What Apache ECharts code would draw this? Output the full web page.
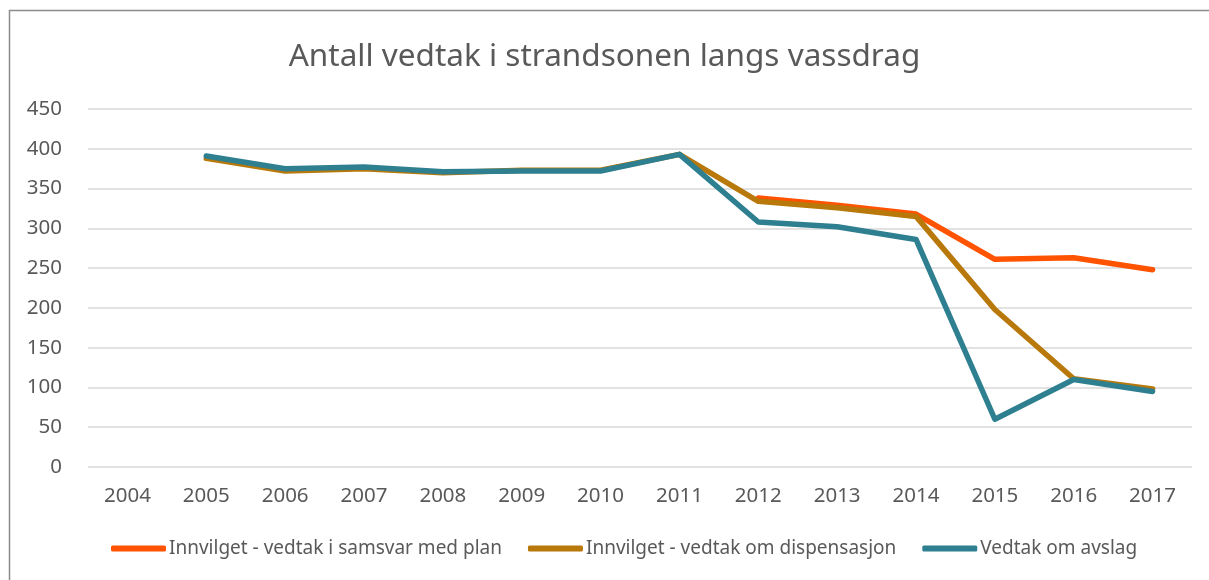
<!DOCTYPE html>
<html>
<head>
<meta charset="utf-8">
<script src="https://cdn.jsdelivr.net/npm/echarts@6/dist/echarts.min.js"></script>
<style>
  html, body { margin: 0; padding: 0; background: #fff; }
  #chart-container { width: 1209px; height: 580px; }
</style>
</head>
<body>
<div id="chart-container"></div>
<script>
// kategorier (år)
var years = ['2004', '2005', '2006', '2007', '2008', '2009', '2010', '2011', '2012', '2013', '2014', '2015', '2016', '2017'];

// serieverdier lest av figuren
var samsvarMedPlan = [null, null, null, null, null, null, null, null, 338, 329, 318, 261, 263, 248];
var dispensasjon = [null, 388, 372, 375, 370, 373, 373, 393, 334, 326, 315, 198, 111, 98];
var avslag = [null, 391, 375, 377, 371, 372, 372, 393, 308, 302, 286, 60, 110, 95];

var seriesNames = ['Innvilget - vedtak i samsvar med plan', 'Innvilget - vedtak om dispensasjon', 'Vedtak om avslag'];
var seriesColors = ['#ff5300', '#b8780a', '#2e7f8f'];

var container = document.getElementById('chart-container');
var myChart = echarts.init(container);

var textColor = '#595959';
var font = 'Noto Sans';

function lineSeries(i, data) {
  return {
    name: seriesNames[i],
    type: 'line',
    data: data,
    showSymbol: false,
    symbol: 'none',
    connectNulls: false,
    lineStyle: { width: 5.5, color: seriesColors[i], cap: 'round', join: 'round' },
    itemStyle: { color: seriesColors[i] },
    emphasis: { disabled: true }
  };
}

myChart.setOption({
  animation: false,
  textStyle: { fontFamily: font },
  title: {
    text: 'Antall vedtak i strandsonen langs vassdrag',
    left: 'center',
    top: 36,
    textStyle: { fontFamily: font, fontSize: 31.5, fontWeight: 'normal', color: textColor }
  },
  // ramme rundt figuren
  graphic: [{
    type: 'rect',
    shape: { x: 9.5, y: 10.5, width: 1210, height: 580 },
    style: { fill: 'none', stroke: '#8c8c8c', lineWidth: 1.5 },
    silent: true
  }],
  legend: {
    bottom: 17,
    left: 106,
    itemWidth: 55,
    itemHeight: 6,
    itemGap: 26,
    icon: 'roundRect',
    textStyle: { fontFamily: font, fontSize: 19, color: textColor, padding: [0, 0, 0, -2] },
    data: seriesNames
  },
  grid: { left: 88, right: 17, top: 109, bottom: 113 },
  xAxis: {
    type: 'category',
    data: years,
    boundaryGap: true,
    axisLine: { show: false },
    axisTick: { show: false },
    axisLabel: { fontFamily: font, fontSize: 20.5, color: textColor, margin: 19 }
  },
  yAxis: {
    type: 'value',
    min: 0,
    max: 450,
    interval: 50,
    axisLine: { show: false },
    axisTick: { show: false },
    axisLabel: { fontFamily: font, fontSize: 20.5, color: textColor, margin: 26 },
    splitLine: { lineStyle: { color: '#d9d9d9', width: 1.5 } }
  },
  series: [
    lineSeries(0, samsvarMedPlan),
    lineSeries(1, dispensasjon),
    lineSeries(2, avslag)
  ]
});
</script>
</body>
</html>
